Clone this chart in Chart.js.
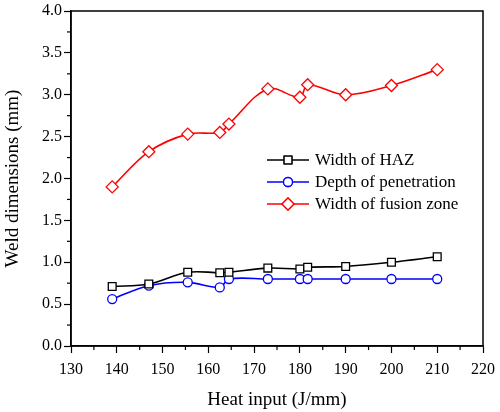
<!DOCTYPE html>
<html>
<head>
<meta charset="utf-8">
<script src="https://cdn.jsdelivr.net/npm/chart.js@4/dist/chart.umd.min.js"></script>
<style>
  html, body { margin: 0; padding: 0; background: #fff; }
  #wrap { width: 500px; height: 412px; position: relative; }
</style>
</head>
<body>
<div id="wrap"><canvas id="c" width="500" height="412"></canvas></div>
<script>
const heatInput = [139, 147, 155.5, 162.5, 164.5, 173, 180, 181.7, 190, 200, 210];
const widthHAZ = [0.71, 0.74, 0.88, 0.875, 0.88, 0.93, 0.92, 0.94, 0.95, 1.0, 1.065];
const depthPenetration = [0.56, 0.72, 0.76, 0.70, 0.80, 0.80, 0.80, 0.80, 0.80, 0.80, 0.80];
const widthFusion = [1.90, 2.32, 2.53, 2.55, 2.65, 3.07, 2.97, 3.12, 3.00, 3.11, 3.30];
const seriesLabels = ['Width of HAZ', 'Depth of penetration', 'Width of fusion zone'];
const xTitle = 'Heat input (J/mm)';
const yTitle = 'Weld dimensions (mm)';

const FONT = "'Liberation Serif', 'Times New Roman', serif";

function pts(ys) { return heatInput.map((x, i) => ({ x: x, y: ys[i] })); }

const styles = [
  { color: '#000000', shape: 'rect', radius: 5.5 },
  { color: '#0000ff', shape: 'circle', radius: 4.5 },
  { color: '#ff0000', shape: 'rectRot', radius: 6 }
];
const seriesData = [widthHAZ, depthPenetration, widthFusion];

const datasets = seriesData.map((ys, i) => ({
  label: seriesLabels[i],
  data: pts(ys),
  borderColor: styles[i].color,
  backgroundColor: '#ffffff',
  pointBorderColor: styles[i].color,
  pointBackgroundColor: '#ffffff',
  pointStyle: styles[i].shape,
  pointRadius: styles[i].radius,
  pointBorderWidth: 1.3,
  borderWidth: 1.6,
  tension: 0.35,
  fill: false
}));

const framePlugin = {
  id: 'frame',
  afterDraw(chart) {
    const ctx = chart.ctx, a = chart.chartArea;
    const xs = chart.scales.x, ys = chart.scales.y;
    ctx.save();
    ctx.strokeStyle = '#000';
    ctx.lineWidth = 1.5;
    ctx.strokeRect(a.left, a.top, a.right - a.left, a.bottom - a.top);
    ctx.lineWidth = 1.2;
    // minor ticks
    for (let v = 135; v < 220; v += 10) {
      const px = xs.getPixelForValue(v);
      ctx.beginPath(); ctx.moveTo(px, a.bottom); ctx.lineTo(px, a.bottom + 4); ctx.stroke();
    }
    for (let v = 0.25; v < 4; v += 0.5) {
      const py = ys.getPixelForValue(v);
      ctx.beginPath(); ctx.moveTo(a.left, py); ctx.lineTo(a.left - 4, py); ctx.stroke();
    }
    ctx.restore();
  },
  afterDatasetsDraw(chart) {
    const ctx = chart.ctx;
    const rows = [160, 182, 204];
    ctx.save();
    chart.data.datasets.forEach((ds, i) => {
      const y = rows[i];
      ctx.strokeStyle = ds.borderColor;
      ctx.lineWidth = 1.6;
      ctx.beginPath(); ctx.moveTo(267, y); ctx.lineTo(309, y); ctx.stroke();
      ctx.fillStyle = '#fff';
      ctx.lineWidth = 1.3;
      Chart.helpers.drawPoint(ctx, { pointStyle: ds.pointStyle, radius: ds.pointRadius, borderWidth: 1.3, rotation: 0 }, 288, y);
      ctx.fill(); ctx.stroke();
      ctx.fillStyle = '#000';
      ctx.font = '17px ' + FONT;
      ctx.textBaseline = 'middle';
      ctx.textAlign = 'left';
      ctx.fillText(ds.label, 315, y + 1);
    });
    ctx.restore();
  }
};

new Chart(document.getElementById('c'), {
  type: 'line',
  data: { datasets: datasets },
  options: {
    responsive: false,
    animation: false,
    devicePixelRatio: 1,
    layout: { padding: { top: 11, right: 17, left: 0, bottom: 0 } },
    plugins: { legend: { display: false }, tooltip: { enabled: false } },
    scales: {
      x: {
        type: 'linear',
        min: 130, max: 220,
        afterFit(s) { s.height = 66; s.paddingLeft = 0; s.paddingRight = 0; },
        border: { color: '#000', width: 1.5 },
        grid: { drawOnChartArea: false, drawTicks: true, tickLength: 7, color: '#000', tickWidth: 1.2 },
        ticks: { stepSize: 10, color: '#000', padding: 7, font: { family: FONT, size: 16 }, maxRotation: 0 },
        title: { display: true, text: xTitle, color: '#000', font: { family: FONT, size: 19 }, padding: { top: 0, bottom: 1 } }
      },
      y: {
        type: 'linear',
        min: 0, max: 4,
        afterFit(s) { s.width = 71; s.paddingTop = 0; s.paddingBottom = 0; },
        border: { color: '#000', width: 1.5 },
        grid: { drawOnChartArea: false, drawTicks: true, tickLength: 7, color: '#000', tickWidth: 1.2 },
        ticks: { stepSize: 0.5, color: '#000', padding: 2, font: { family: FONT, size: 16 }, callback: v => Number(v).toFixed(1) },
        title: { display: true, text: yTitle, color: '#000', font: { family: FONT, size: 19 }, padding: { top: 2, bottom: 0 } }
      }
    }
  },
  plugins: [framePlugin]
});
</script>
</body>
</html>
